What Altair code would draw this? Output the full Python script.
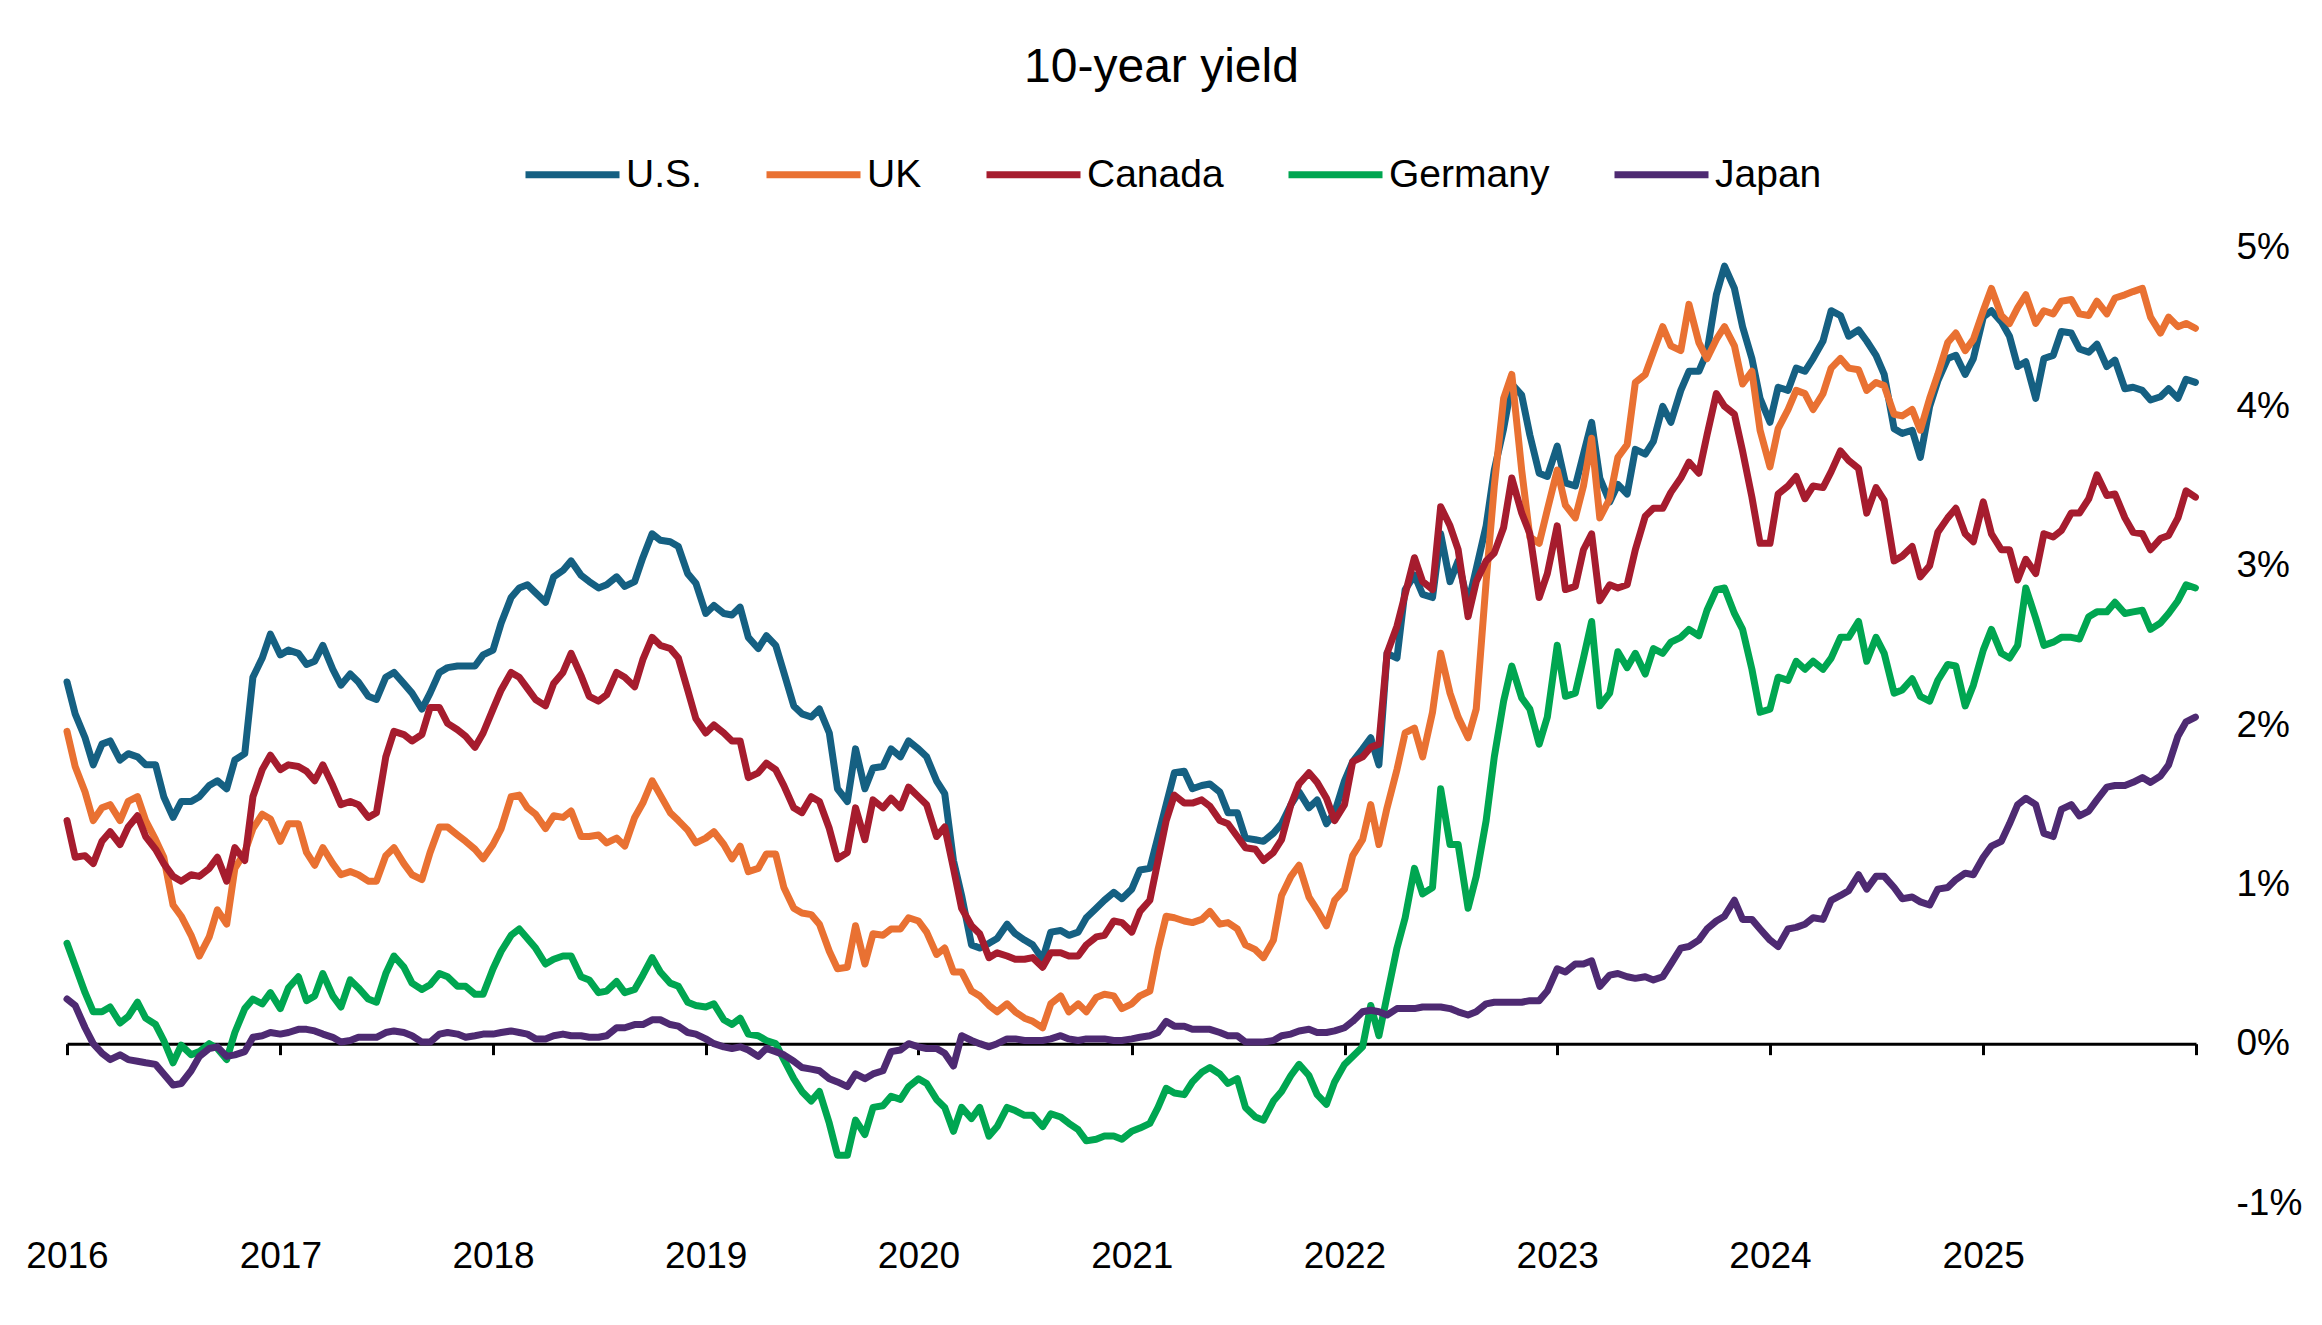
import altair as alt
import pandas as pd

FONT = "Liberation Sans"

# observation dates: 1st and 15th of every month, plus the last day shown
dates = [f"{y}-{m:02d}-{d:02d}" for y in range(2016, 2026) for m in range(1, 13) for d in (1, 15)] + ["2025-12-31"]
series_names = ["U.S.", "UK", "Canada", "Germany", "Japan"]
series_colors = ["#156082", "#E97132", "#A61C2E", "#00A651", "#4E2A72"]

us = [
    2.27, 2.07, 1.92, 1.75, 1.88, 1.90, 1.78, 1.82, 1.80, 1.75, 1.75, 1.55, 1.42, 1.52, 1.52, 1.55, 1.62, 1.65, 1.60, 1.78, 1.82, 2.30, 2.42, 2.57,
    2.44, 2.47, 2.45, 2.38, 2.40, 2.50, 2.35, 2.25, 2.32, 2.27, 2.18, 2.16, 2.30, 2.33, 2.26, 2.20, 2.10, 2.20, 2.33, 2.36, 2.37, 2.37, 2.37, 2.44,
    2.47, 2.64, 2.80, 2.86, 2.88, 2.83, 2.77, 2.93, 2.97, 3.03, 2.94, 2.90, 2.86, 2.88, 2.93, 2.87, 2.90, 3.05, 3.20, 3.16, 3.15, 3.12, 2.95, 2.89,
    2.70, 2.75, 2.70, 2.69, 2.74, 2.55, 2.48, 2.56, 2.50, 2.33, 2.12, 2.07, 2.05, 2.10, 1.95, 1.60, 1.52, 1.85, 1.60, 1.73, 1.74, 1.85, 1.80, 1.90,
    1.85, 1.80, 1.65, 1.57, 1.15, 0.93, 0.62, 0.60, 0.63, 0.66, 0.75, 0.69, 0.65, 0.62, 0.53, 0.70, 0.71, 0.68, 0.70, 0.79, 0.85, 0.90, 0.95, 0.91,
    0.97, 1.09, 1.10, 1.30, 1.50, 1.70, 1.71, 1.60, 1.62, 1.63, 1.58, 1.45, 1.45, 1.29, 1.28, 1.27, 1.32, 1.38, 1.50, 1.58, 1.48, 1.53, 1.38, 1.45,
    1.65, 1.77, 1.85, 1.92, 1.75, 2.45, 2.42, 2.85, 2.94, 2.82, 2.80, 3.20, 2.90, 3.03, 2.76, 2.98, 3.25, 3.60, 3.86, 4.14, 4.07, 3.82, 3.58, 3.56,
    3.75, 3.52, 3.50, 3.70, 3.90, 3.55, 3.40, 3.51, 3.45, 3.73, 3.70, 3.78, 4.00, 3.90, 4.10, 4.22, 4.22, 4.34, 4.70, 4.88, 4.74, 4.50, 4.30, 4.05,
    3.90, 4.12, 4.10, 4.24, 4.22, 4.30, 4.41, 4.60, 4.57, 4.44, 4.48, 4.41, 4.32, 4.20, 3.86, 3.83, 3.85, 3.68, 4.00, 4.16, 4.30, 4.32, 4.20, 4.30,
    4.56, 4.60, 4.53, 4.44, 4.25, 4.28, 4.05, 4.30, 4.32, 4.47, 4.46, 4.36, 4.34, 4.39, 4.25, 4.29, 4.11, 4.12, 4.10, 4.04, 4.06, 4.11, 4.05, 4.17,
    4.15,
]
uk = [
    1.96, 1.74, 1.58, 1.40, 1.48, 1.50, 1.40, 1.52, 1.55, 1.40, 1.28, 1.17, 0.87, 0.80, 0.68, 0.55, 0.67, 0.84, 0.75, 1.10, 1.20, 1.35, 1.44, 1.41,
    1.27, 1.38, 1.38, 1.20, 1.12, 1.23, 1.13, 1.06, 1.08, 1.06, 1.02, 1.02, 1.18, 1.23, 1.13, 1.06, 1.03, 1.20, 1.36, 1.36, 1.31, 1.27, 1.22, 1.16,
    1.25, 1.35, 1.55, 1.56, 1.48, 1.44, 1.35, 1.43, 1.42, 1.46, 1.30, 1.30, 1.31, 1.26, 1.29, 1.24, 1.42, 1.51, 1.65, 1.56, 1.45, 1.40, 1.34, 1.26,
    1.29, 1.33, 1.25, 1.16, 1.24, 1.08, 1.10, 1.19, 1.19, 0.98, 0.85, 0.82, 0.81, 0.75, 0.58, 0.47, 0.48, 0.74, 0.50, 0.69, 0.68, 0.72, 0.72, 0.79,
    0.77, 0.70, 0.56, 0.60, 0.45, 0.45, 0.33, 0.30, 0.24, 0.20, 0.25, 0.20, 0.16, 0.14, 0.10, 0.25, 0.30, 0.20, 0.25, 0.20, 0.29, 0.31, 0.30, 0.22,
    0.25, 0.30, 0.33, 0.59, 0.80, 0.79, 0.77, 0.76, 0.78, 0.83, 0.75, 0.76, 0.72, 0.62, 0.59, 0.54, 0.65, 0.93, 1.05, 1.12, 0.92, 0.84, 0.74, 0.90,
    0.97, 1.18, 1.28, 1.50, 1.25, 1.48, 1.72, 1.95, 1.98, 1.80, 2.08, 2.45, 2.20, 2.05, 1.92, 2.10, 2.90, 3.50, 4.05, 4.20, 3.60, 3.18, 3.14, 3.35,
    3.60, 3.38, 3.30, 3.50, 3.80, 3.30, 3.42, 3.68, 3.76, 4.15, 4.20, 4.34, 4.50, 4.38, 4.35, 4.64, 4.40, 4.30, 4.42, 4.50, 4.38, 4.14, 4.22, 3.85,
    3.62, 3.86, 3.98, 4.10, 4.08, 3.98, 4.08, 4.24, 4.30, 4.24, 4.23, 4.10, 4.15, 4.13, 3.95, 3.94, 3.98, 3.85, 4.05, 4.20, 4.40, 4.46, 4.35, 4.42,
    4.60, 4.74, 4.57, 4.52, 4.62, 4.70, 4.52, 4.60, 4.58, 4.66, 4.67, 4.58, 4.57, 4.66, 4.58, 4.68, 4.70, 4.72, 4.74, 4.56, 4.46, 4.56, 4.50, 4.52,
    4.49,
]
canada = [
    1.40, 1.17, 1.18, 1.13, 1.27, 1.33, 1.25, 1.36, 1.43, 1.30, 1.22, 1.13, 1.05, 1.02, 1.06, 1.05, 1.10, 1.17, 1.02, 1.23, 1.15, 1.55, 1.72, 1.81,
    1.72, 1.75, 1.74, 1.71, 1.65, 1.75, 1.62, 1.50, 1.52, 1.50, 1.42, 1.45, 1.80, 1.96, 1.94, 1.90, 1.94, 2.11, 2.11, 2.01, 1.97, 1.93, 1.86, 1.95,
    2.10, 2.22, 2.33, 2.30, 2.23, 2.16, 2.12, 2.26, 2.33, 2.45, 2.31, 2.18, 2.15, 2.19, 2.33, 2.30, 2.24, 2.41, 2.55, 2.50, 2.48, 2.42, 2.22, 2.04,
    1.95, 2.00, 1.95, 1.90, 1.90, 1.67, 1.70, 1.76, 1.72, 1.62, 1.48, 1.45, 1.55, 1.52, 1.35, 1.16, 1.20, 1.48, 1.28, 1.53, 1.48, 1.54, 1.48, 1.61,
    1.55, 1.50, 1.30, 1.36, 1.10, 0.85, 0.74, 0.69, 0.54, 0.57, 0.55, 0.53, 0.53, 0.54, 0.48, 0.57, 0.57, 0.55, 0.55, 0.62, 0.67, 0.68, 0.77, 0.76,
    0.70, 0.83, 0.90, 1.15, 1.40, 1.56, 1.51, 1.51, 1.53, 1.49, 1.40, 1.38, 1.30, 1.23, 1.22, 1.15, 1.20, 1.28, 1.50, 1.63, 1.70, 1.64, 1.54, 1.40,
    1.50, 1.77, 1.80, 1.86, 1.88, 2.45, 2.62, 2.82, 3.05, 2.90, 2.85, 3.37, 3.25, 3.10, 2.68, 2.90, 3.03, 3.08, 3.24, 3.55, 3.33, 3.20, 2.80, 2.95,
    3.25, 2.85, 2.87, 3.10, 3.20, 2.78, 2.88, 2.86, 2.88, 3.10, 3.31, 3.36, 3.36, 3.46, 3.55, 3.65, 3.58, 3.82, 4.08, 4.00, 3.95, 3.72, 3.43, 3.14,
    3.14, 3.45, 3.50, 3.56, 3.42, 3.50, 3.49, 3.59, 3.72, 3.66, 3.61, 3.33, 3.49, 3.41, 3.03, 3.06, 3.12, 2.93, 3.00, 3.21, 3.30, 3.36, 3.20, 3.15,
    3.40, 3.20, 3.10, 3.10, 2.91, 3.04, 2.95, 3.20, 3.18, 3.22, 3.33, 3.33, 3.42, 3.57, 3.44, 3.45, 3.30, 3.21, 3.20, 3.10, 3.17, 3.19, 3.30, 3.47,
    3.43,
]
germany = [
    0.63, 0.49, 0.32, 0.20, 0.20, 0.23, 0.13, 0.17, 0.26, 0.16, 0.12, 0.02, -0.12, -0.01, -0.07, -0.05, 0.00, -0.03, -0.10, 0.07, 0.22, 0.28, 0.25, 0.32,
    0.22, 0.35, 0.42, 0.27, 0.30, 0.44, 0.30, 0.23, 0.40, 0.35, 0.28, 0.26, 0.44, 0.55, 0.48, 0.38, 0.34, 0.37, 0.44, 0.42, 0.36, 0.36, 0.31, 0.31,
    0.47, 0.58, 0.68, 0.72, 0.66, 0.60, 0.50, 0.53, 0.55, 0.55, 0.42, 0.40, 0.32, 0.33, 0.39, 0.32, 0.34, 0.43, 0.54, 0.45, 0.38, 0.36, 0.26, 0.24,
    0.23, 0.25, 0.15, 0.12, 0.16, 0.06, 0.05, 0.02, 0.00, -0.10, -0.22, -0.30, -0.36, -0.30, -0.50, -0.70, -0.70, -0.48, -0.57, -0.40, -0.39, -0.33, -0.35, -0.27,
    -0.22, -0.25, -0.35, -0.40, -0.55, -0.40, -0.47, -0.40, -0.58, -0.52, -0.40, -0.42, -0.45, -0.45, -0.52, -0.44, -0.46, -0.50, -0.54, -0.61, -0.60, -0.58, -0.58, -0.60,
    -0.55, -0.53, -0.50, -0.40, -0.28, -0.31, -0.32, -0.24, -0.18, -0.15, -0.19, -0.25, -0.22, -0.40, -0.46, -0.48, -0.36, -0.30, -0.20, -0.13, -0.20, -0.32, -0.38, -0.24,
    -0.13, -0.08, -0.02, 0.24, 0.05, 0.30, 0.60, 0.79, 1.10, 0.94, 0.98, 1.60, 1.25, 1.25, 0.85, 1.05, 1.40, 1.80, 2.15, 2.37, 2.17, 2.10, 1.88, 2.05,
    2.50, 2.18, 2.20, 2.42, 2.65, 2.12, 2.20, 2.46, 2.36, 2.45, 2.32, 2.48, 2.45, 2.52, 2.55, 2.60, 2.56, 2.72, 2.85, 2.86, 2.70, 2.60, 2.35, 2.08,
    2.10, 2.30, 2.28, 2.40, 2.35, 2.40, 2.35, 2.42, 2.55, 2.55, 2.65, 2.40, 2.55, 2.45, 2.20, 2.22, 2.29, 2.18, 2.15, 2.28, 2.38, 2.37, 2.12, 2.25,
    2.47, 2.60, 2.45, 2.42, 2.50, 2.86, 2.67, 2.50, 2.52, 2.55, 2.55, 2.54, 2.68, 2.71, 2.71, 2.77, 2.70, 2.71, 2.72, 2.60, 2.64, 2.70, 2.78, 2.88,
    2.86,
]
japan = [
    0.28, 0.24, 0.10, 0.00, -0.06, -0.10, -0.07, -0.10, -0.11, -0.12, -0.13, -0.19, -0.26, -0.25, -0.17, -0.08, -0.03, -0.02, -0.08, -0.07, -0.05, 0.04, 0.05, 0.07,
    0.06, 0.07, 0.09, 0.09, 0.08, 0.06, 0.04, 0.01, 0.02, 0.04, 0.04, 0.04, 0.07, 0.08, 0.07, 0.05, 0.01, 0.01, 0.06, 0.07, 0.06, 0.04, 0.05, 0.06,
    0.06, 0.07, 0.08, 0.07, 0.06, 0.03, 0.03, 0.05, 0.06, 0.05, 0.05, 0.04, 0.04, 0.05, 0.10, 0.10, 0.12, 0.12, 0.15, 0.15, 0.12, 0.11, 0.07, 0.06,
    0.03, 0.00, -0.02, -0.03, -0.02, -0.04, -0.08, -0.03, -0.05, -0.07, -0.11, -0.15, -0.16, -0.17, -0.22, -0.24, -0.27, -0.19, -0.22, -0.19, -0.17, -0.05, -0.04, 0.00,
    -0.02, -0.03, -0.03, -0.06, -0.14, 0.05, 0.02, 0.00, -0.02, 0.00, 0.03, 0.03, 0.02, 0.02, 0.02, 0.03, 0.05, 0.03, 0.02, 0.03, 0.03, 0.03, 0.02, 0.02,
    0.03, 0.04, 0.05, 0.07, 0.14, 0.11, 0.11, 0.09, 0.09, 0.09, 0.07, 0.05, 0.05, 0.01, 0.01, 0.01, 0.02, 0.05, 0.06, 0.08, 0.09, 0.07, 0.07, 0.08,
    0.10, 0.14, 0.20, 0.21, 0.20, 0.18, 0.22, 0.22, 0.22, 0.23, 0.23, 0.23, 0.22, 0.20, 0.18, 0.20, 0.25, 0.26, 0.26, 0.26, 0.26, 0.27, 0.27, 0.33,
    0.47, 0.45, 0.50, 0.50, 0.52, 0.36, 0.43, 0.44, 0.42, 0.41, 0.42, 0.40, 0.42, 0.50, 0.60, 0.61, 0.65, 0.72, 0.77, 0.80, 0.90, 0.78, 0.78, 0.72,
    0.65, 0.61, 0.72, 0.73, 0.75, 0.79, 0.78, 0.90, 0.93, 0.96, 1.06, 0.97, 1.05, 1.05, 0.98, 0.91, 0.92, 0.89, 0.87, 0.97, 0.98, 1.03, 1.07, 1.06,
    1.17, 1.24, 1.27, 1.38, 1.50, 1.54, 1.50, 1.32, 1.30, 1.47, 1.50, 1.43, 1.46, 1.53, 1.61, 1.62, 1.62, 1.64, 1.67, 1.64, 1.68, 1.75, 1.93, 2.02,
    2.05,
]

y_ticks = [-1, 0, 1, 2, 3, 4, 5]
tick_years = list(range(2016, 2027))

all_series = [us, uk, canada, germany, japan]
for s in all_series:
    assert len(s) == len(dates), (len(s), len(dates))

rows = []
for name, vals in zip(series_names, all_series):
    for d, v in zip(dates, vals):
        rows.append({"date": d, "series": name, "value": v})
df = pd.DataFrame(rows)
ticks_df = pd.DataFrame({"date": [f"{y}-01-01" for y in tick_years]})

W, H = 2129, 956
tick_values = [alt.DateTime(year=y, month=1, date=1, utc=True) for y in tick_years]
x_scale = alt.Scale(
    type="utc",
    domain=[alt.DateTime(year=2016, month=1, date=1, utc=True),
            alt.DateTime(year=2026, month=1, date=1, utc=True)],
)

lines = alt.Chart(df).mark_line(strokeWidth=7, strokeJoin="round", strokeCap="round").encode(
    x=alt.X(
        "date:T",
        scale=x_scale,
        axis=alt.Axis(
            title=None, orient="bottom", values=tick_values, grid=False,
            domain=False, ticks=False, tickSize=0,
            labelExpr="utcyear(datum.value) >= 2026 ? '' : utcFormat(datum.value, '%Y')",
            labelFont=FONT, labelFontSize=37, labelColor="#000",
            labelBaseline="middle", labelPadding=53, labelFlush=False, labelOverlap=False,
        ),
    ),
    y=alt.Y(
        "value:Q",
        scale=alt.Scale(domain=[-1, 5], nice=False, zero=False),
        axis=alt.Axis(
            title=None, orient="right", values=y_ticks, grid=False,
            domain=False, ticks=False,
            labelExpr="datum.value + '%'",
            labelFont=FONT, labelFontSize=37, labelColor="#000",
            labelPadding=40, labelAlign="left", labelBaseline="middle",
        ),
    ),
    color=alt.Color(
        "series:N",
        scale=alt.Scale(domain=series_names, range=series_colors),
        sort=series_names,
        legend=alt.Legend(
            title=None, orient="none", legendX=455, legendY=-123,
            direction="horizontal", symbolType="stroke", symbolSize=8836,
            symbolStrokeWidth=7, labelFont=FONT, labelFontSize=39,
            labelColor="#000", labelOffset=3, columnPadding=50, labelLimit=0,
        ),
    ),
)

axis_line = alt.Chart(ticks_df).mark_point(opacity=0).encode(
    x=alt.X(
        "date:T",
        scale=x_scale,
        axis=alt.Axis(
            title=None, orient="bottom", values=tick_values, grid=False,
            labels=False, domain=True, domainColor="#000", domainWidth=3,
            ticks=True, tickColor="#000", tickWidth=3, tickSize=11,
            offset=-H / 6,
        ),
    )
)

chart = alt.layer(lines, axis_line).resolve_axis(x="independent").properties(
    width=W,
    height=H,
    autosize=alt.AutoSizeParams(type="none"),
    padding={"left": 59, "top": 239, "right": 118, "bottom": 110},
    title=alt.Title(
        "10-year yield", font=FONT, fontSize=48, fontWeight="normal",
        color="#000", anchor="middle", offset=32, dx=30,
    ),
).configure_view(stroke=None)

chart.save("out.html", embed_options={"renderer": "svg", "actions": False})
